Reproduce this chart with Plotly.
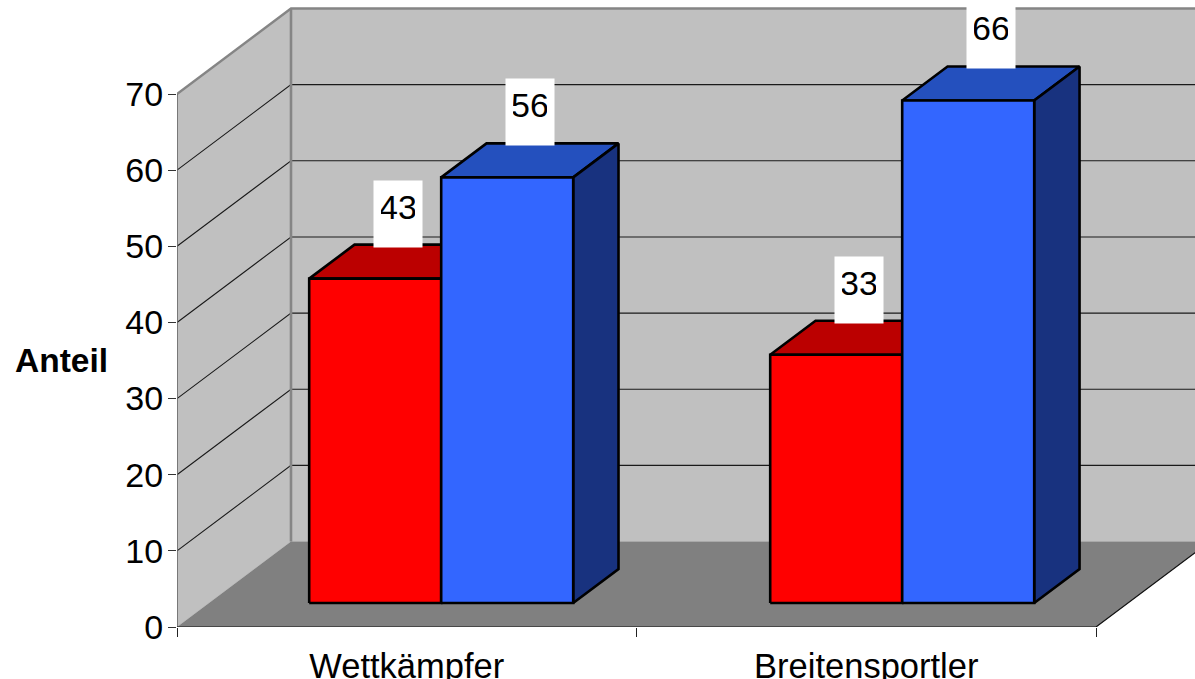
import plotly.graph_objects as go

# ---- data ----
categories = ["Wettkämpfer", "Breitensportler"]
category_positions = [0.5, 1.5]
group_centres = [0.5053, 1.5086]
red_values = [42.6, 32.6]
blue_values = [55.9, 66.0]
y_ticks = [0, 10, 20, 30, 40, 50, 60, 70]
grid_values = [10, 20, 30, 40, 50, 60]
y_title = "Anteil"

# ---- styles and scale ----
FONT = "Liberation Sans"
PX_X = 459.5          # pixels per category
PX_Y = 7.614          # pixels per value unit
W, H = 1195, 679
LEFT, BOTTOM = 177, 52
DX = 114 / PX_X       # full chart depth in data units
DY = 85.5 / PX_Y
Z0 = 24 / 85.5        # bar front depth
Z1 = Z0 + 34 / 85.5   # bar back depth
BAR_W = 132 / PX_X
N = len(categories)
WALL, FLOOR, EDGE = "#C0C0C0", "#808080", "#858585"


def P(x, y, z=0.0):
    return x + z * DX, y + z * DY


fig = go.Figure()


def poly(points, fill=None, line="black", width=1.0):
    xs = [p[0] for p in points]
    ys = [p[1] for p in points]
    if fill:
        xs.append(xs[0])
        ys.append(ys[0])
    fig.add_trace(go.Scatter(
        x=xs, y=ys, mode="lines", fill="toself" if fill else None,
        fillcolor=fill, line=dict(color=line, width=width),
        hoverinfo="skip", showlegend=False))


TOP = y_ticks[-1]
# walls and floor
poly([P(N, 0, 1), P(0, 0, 1), P(0, TOP, 1), P(N, TOP, 1)], fill=WALL, line=WALL, width=0.1)
poly([P(0, 0), P(0, 0, 1), P(0, TOP, 1), P(0, TOP)], fill=WALL, line=WALL, width=0.1)
poly([P(0, 0), P(N, 0), P(N, 0, 1), P(0, 0, 1)], fill=FLOOR, line=FLOOR, width=0.1)

# gridlines
for v in grid_values:
    poly([P(0, v), P(0, v, 1), P(N, v, 1)], line="#1a1a1a", width=1.1)

# wall edges
poly([P(0, TOP), P(0, TOP, 1), P(N, TOP, 1)], line=EDGE, width=2.4)
poly([P(0, 0, 1), P(0, TOP, 1)], line=EDGE, width=2.6)
poly([P(0, 0), P(0, TOP)], line="#666666", width=1.6)
poly([P(0, 0), P(N, 0), P(N, 0, 1)], line="#111111", width=1.2)


def bar(x0, x1, v, front, top, side):
    poly([P(x0, v, Z0), P(x0, v, Z1), P(x1, v, Z1), P(x1, v, Z0)], fill=top, width=2.6)
    poly([P(x1, 0, Z0), P(x1, 0, Z1), P(x1, v, Z1), P(x1, v, Z0)], fill=side, width=2.6)
    poly([P(x0, 0, Z0), P(x1, 0, Z0), P(x1, v, Z0), P(x0, v, Z0)], fill=front, width=2.6)


annotations = []


def label(x_mid, v):
    annotations.append(dict(
        x=P(x_mid, v, (Z0 + Z1) / 2)[0], y=P(x_mid, v, Z1)[1],
        xref="x", yref="y", xanchor="center", yanchor="bottom", yshift=-3,
        text=str(round(v)), showarrow=False, bgcolor="white",
        width=34, height=52, valign="top", borderpad=7,
        font=dict(family=FONT, size=34, color="black")))


for c, r, b in zip(group_centres, red_values, blue_values):
    bar(c - BAR_W, c, r, "#FF0000", "#BB0000", "#BB0000")
    bar(c, c + BAR_W, b, "#3366FF", "#2450BE", "#18327F")
    label(c - BAR_W / 2, r)
    label(c + BAR_W / 2, b)

annotations.append(dict(
    xref="paper", yref="paper", x=(61 - LEFT) / (W - LEFT), y=(627 - 361) / 627,
    xanchor="center", yanchor="middle", text=f"<b>{y_title}</b>", showarrow=False,
    font=dict(family=FONT, size=33.5, color="black")))

fig.update_layout(
    width=W, height=H, autosize=False,
    margin=dict(l=LEFT, r=0, t=0, b=BOTTOM, pad=0),
    paper_bgcolor="white", plot_bgcolor="white",
    hovermode=False, showlegend=False,
    font=dict(family=FONT, size=34, color="black"),
    annotations=annotations,
    xaxis=dict(
        automargin=False,
        range=[0, (W - LEFT) / PX_X], showgrid=False, zeroline=False, showline=False,
        tickmode="array", tickvals=category_positions, ticktext=categories,
        ticks="outside", ticklen=9, tickcolor="rgba(0,0,0,0)", tickwidth=1,
        minor=dict(tickmode="array", tickvals=list(range(N + 1)), ticks="outside",
                   ticklen=9, tickcolor="#222222", tickwidth=1.2, showgrid=False),
        tickfont=dict(family=FONT, size=34.5, color="black"), fixedrange=True),
    yaxis=dict(
        automargin=False,
        range=[0, (H - BOTTOM) / PX_Y], showgrid=False, zeroline=False, showline=False,
        tickmode="array", tickvals=y_ticks, ticktext=[str(t) for t in y_ticks],
        ticks="outside", ticklen=8, tickcolor="#333333", tickwidth=1.2,
        ticklabelstandoff=-2,
        tickfont=dict(family=FONT, size=34, color="black"), fixedrange=True),
)

fig.write_html("out.html", config={"displayModeBar": False},
               post_script="document.body.style.margin='0';document.body.style.overflow='hidden';")
